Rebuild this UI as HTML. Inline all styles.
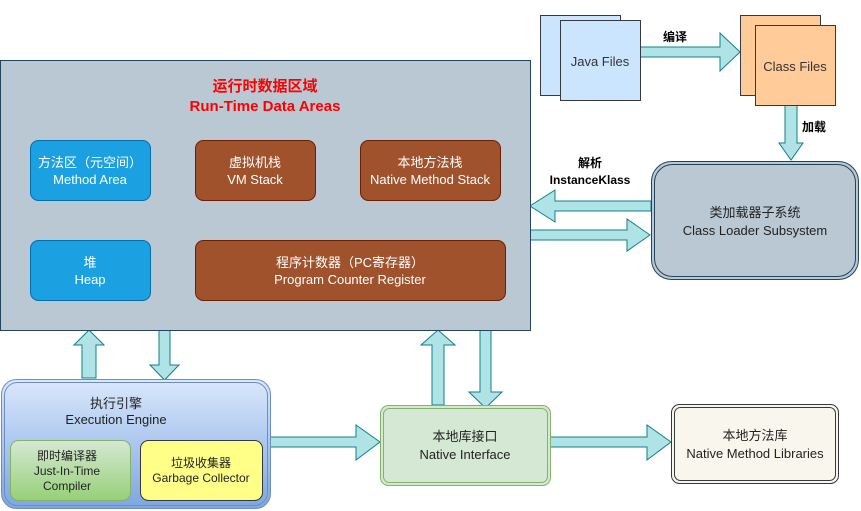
<!DOCTYPE html>
<html><head><meta charset="utf-8"><style>
html,body{margin:0;padding:0;background:#fff;}
svg{display:block;font-family:"Liberation Sans","Noto Sans CJK SC",sans-serif;}
</style></head><body>
<svg width="861" height="511" viewBox="0 0 861 511" xmlns="http://www.w3.org/2000/svg">
<defs>
<linearGradient id="ee" x1="0" y1="0" x2="0" y2="1"><stop offset="0" stop-color="#dae8fc"/><stop offset="1" stop-color="#7ea6e0"/></linearGradient>
<linearGradient id="jit" x1="0" y1="0" x2="0" y2="1"><stop offset="0" stop-color="#d5e8d4"/><stop offset="1" stop-color="#97d077"/></linearGradient>
</defs>
<g fill="#b0e3e6" stroke="#0e8088" stroke-width="1">
<!-- java -> class -->
<polygon points="640,47 720,47 720,33 740,52 720,71 720,57 640,57"/>
<!-- class -> loader -->
<polygon points="785,105 797,105 797,143 803,143 791,160 779,143 785,143"/>
<!-- loader -> main -->
<polygon points="651,201 555,201 555,190 530,206 555,222 555,211 651,211"/>
<!-- main -> loader -->
<polygon points="530,230 627,230 627,219 650,235 627,251 627,240 530,240"/>
<!-- exec up -->
<polygon points="82,378 82,345 74,345 89,330 104,345 96,345 96,378"/>
<!-- exec down -->
<polygon points="159,330 170,330 170,365 179,365 164.5,380 150,365 159,365"/>
<!-- NI up -->
<polygon points="432,405 432,345 421,345 438,330 455,345 444,345 444,405"/>
<!-- NI down -->
<polygon points="480,330 491,330 491,392 502,392 485.5,408 469,392 480,392"/>
<!-- exec -> NI -->
<polygon points="270,437 356,437 356,425 380,442 356,460 356,447 270,447"/>
<!-- NI -> libs -->
<polygon points="550,437 647,437 647,425 671,442 647,460 647,447 550,447"/>
</g>
<!-- main area -->
<rect x="0.5" y="60.5" width="530" height="270" fill="#bac8d3" stroke="#23445d"/>
<text x="265" y="91" text-anchor="middle" fill="#ff0000" font-size="15" font-weight="bold">运行时数据区域</text>
<text x="265" y="111" text-anchor="middle" fill="#ff0000" font-size="15" font-weight="bold">Run-Time Data Areas</text>
<g font-size="13" fill="#fff" text-anchor="middle">
<rect x="30.5" y="140.5" width="120" height="60" rx="8" fill="#1ba1e2" stroke="#006eaf"/>
<text x="90" y="167">方法区（元空间）</text><text x="90" y="184">Method Area</text>
<rect x="195.5" y="140.5" width="120" height="60" rx="8" fill="#a0522d" stroke="#6d1f00"/>
<text x="255" y="167">虚拟机栈</text><text x="255" y="184">VM Stack</text>
<rect x="360.5" y="140.5" width="140" height="60" rx="8" fill="#a0522d" stroke="#6d1f00"/>
<text x="430" y="167">本地方法栈</text><text x="430" y="184">Native Method Stack</text>
<rect x="30.5" y="240.5" width="120" height="60" rx="8" fill="#1ba1e2" stroke="#006eaf"/>
<text x="90" y="267">堆</text><text x="90" y="284">Heap</text>
<rect x="195.5" y="240.5" width="310" height="60" rx="8" fill="#a0522d" stroke="#6d1f00"/>
<text x="350" y="267">程序计数器（PC寄存器）</text><text x="350" y="284">Program Counter Register</text>
</g>
<!-- java files -->
<rect x="540.5" y="15.5" width="80" height="80" fill="#cce5ff" stroke="#36393d"/>
<rect x="560.5" y="20.5" width="80" height="80" fill="#cce5ff" stroke="#36393d"/>
<text x="600" y="66" text-anchor="middle" font-size="13" fill="#333">Java Files</text>
<text x="675" y="41" text-anchor="middle" font-size="12" font-weight="bold">编译</text>
<!-- class files -->
<rect x="740.5" y="15.5" width="80" height="80" fill="#ffcc99" stroke="#36393d"/>
<rect x="755.5" y="25.5" width="80" height="80" fill="#ffcc99" stroke="#36393d"/>
<text x="795" y="71" text-anchor="middle" font-size="13" fill="#333">Class Files</text>
<text x="814" y="131" text-anchor="middle" font-size="12" font-weight="bold">加载</text>
<!-- class loader -->
<rect x="651.5" y="161.5" width="207" height="118" rx="20" fill="#bac8d3" stroke="#23445d"/>
<rect x="654.5" y="164.5" width="201" height="112" rx="18" fill="none" stroke="#23445d"/>
<text x="755" y="217" text-anchor="middle" font-size="13" fill="#222">类加载器子系统</text>
<text x="755" y="235" text-anchor="middle" font-size="13" fill="#222">Class Loader Subsystem</text>
<text x="590" y="167" text-anchor="middle" font-size="12" font-weight="bold">解析</text>
<text x="590" y="184" text-anchor="middle" font-size="12" font-weight="bold">InstanceKlass</text>
<!-- execution engine -->
<rect x="1.5" y="379.5" width="269" height="129" rx="15" fill="url(#ee)" stroke="#6c8ebf"/>
<rect x="4.5" y="382.5" width="263" height="123" rx="13" fill="none" stroke="#6c8ebf"/>
<text x="116" y="408" text-anchor="middle" font-size="13" fill="#222">执行引擎</text>
<text x="116" y="424" text-anchor="middle" font-size="13" fill="#222">Execution Engine</text>
<rect x="10.5" y="440.5" width="120" height="60" rx="8" fill="url(#jit)" stroke="#82b366"/>
<text x="67" y="460" text-anchor="middle" font-size="12" fill="#222">即时编译器</text>
<text x="67" y="475" text-anchor="middle" font-size="12" fill="#222">Just-In-Time</text>
<text x="67" y="490" text-anchor="middle" font-size="12" fill="#222">Compiler</text>
<rect x="140.5" y="440.5" width="122" height="60" rx="8" fill="#ffff88" stroke="#36393d"/>
<text x="201" y="467" text-anchor="middle" font-size="12" fill="#222">垃圾收集器</text>
<text x="201" y="482" text-anchor="middle" font-size="12" fill="#222">Garbage Collector</text>
<!-- native interface -->
<rect x="380.5" y="405.5" width="170" height="80" rx="8" fill="#d5e8d4" stroke="#82b366"/>
<rect x="383.5" y="408.5" width="164" height="74" rx="6" fill="none" stroke="#82b366"/>
<text x="465" y="441" text-anchor="middle" font-size="13" fill="#222">本地库接口</text>
<text x="465" y="459" text-anchor="middle" font-size="13" fill="#222">Native Interface</text>
<!-- native libs -->
<rect x="671.5" y="404.5" width="167" height="79" rx="8" fill="#f9f7ed" stroke="#36393d"/>
<rect x="674.5" y="407.5" width="161" height="73" rx="6" fill="none" stroke="#36393d"/>
<text x="755" y="440" text-anchor="middle" font-size="13" fill="#222">本地方法库</text>
<text x="755" y="458" text-anchor="middle" font-size="13" fill="#222">Native Method Libraries</text>
</svg>
</body></html>
